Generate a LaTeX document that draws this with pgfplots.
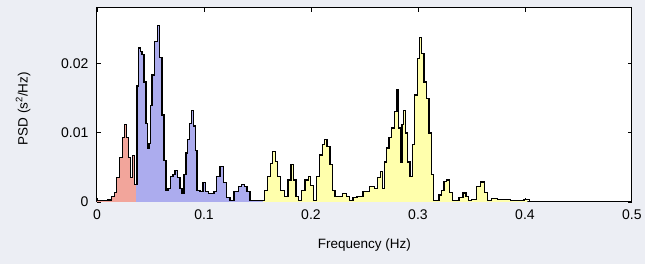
\documentclass[border=0pt]{standalone}
\usepackage{fontspec}
\setmainfont{Liberation Sans}
\usepackage{pgfplots}
\usepackage{pgfplotstable}
\pgfplotsset{compat=1.18}
\definecolor{bgc}{RGB}{236,238,244}
\definecolor{vlf}{RGB}{242,165,155}
\definecolor{lf}{RGB}{172,172,238}
\definecolor{hf}{RGB}{255,255,172}
\pgfplotstableread{
f psd
0.0000 0.0002
0.0077 0.0002
0.0124 0.0003
0.0152 0.0008
0.0170 0.0014
0.0201 0.0035
0.0226 0.0064
0.0245 0.0093
0.0264 0.0112
0.0285 0.0093
0.0301 0.0064
0.0320 0.0035
0.0339 0.0067
0.0357 0.0025
0.0366 0.0025
0.0380 0.0168
0.0394 0.0223
0.0413 0.0218
0.0431 0.0214
0.0450 0.0174
0.0466 0.0114
0.0481 0.0078
0.0492 0.0085
0.0506 0.0140
0.0525 0.0184
0.0553 0.0232
0.0574 0.0256
0.0596 0.0209
0.0618 0.0126
0.0637 0.0060
0.0655 0.0017
0.0674 0.0020
0.0699 0.0037
0.0720 0.0040
0.0739 0.0046
0.0767 0.0035
0.0786 0.0020
0.0801 0.0013
0.0823 0.0040
0.0839 0.0071
0.0856 0.0090
0.0870 0.0114
0.0895 0.0133
0.0911 0.0110
0.0925 0.0075
0.0947 0.0017
0.0979 0.0015
0.1000 0.0028
0.1025 0.0015
0.1056 0.0012
0.1084 0.0012
0.1102 0.0015
0.1133 0.0037
0.1165 0.0051
0.1196 0.0028
0.1226 0.0006
0.1258 0.0002
0.1305 0.0015
0.1336 0.0022
0.1366 0.0025
0.1391 0.0022
0.1413 0.0015
0.1445 0.0002
0.1475 0.0002
0.1512 0.0002
0.1550 0.0002
0.1584 0.0017
0.1606 0.0037
0.1631 0.0056
0.1655 0.0073
0.1678 0.0059
0.1699 0.0037
0.1730 0.0017
0.1771 0.0008
0.1801 0.0032
0.1827 0.0054
0.1848 0.0032
0.1873 0.0008
0.1895 0.0002
0.1925 0.0017
0.1966 0.0032
0.1988 0.0037
0.2009 0.0024
0.2034 0.0002
0.2065 0.0037
0.2097 0.0068
0.2118 0.0083
0.2137 0.0090
0.2165 0.0080
0.2190 0.0054
0.2214 0.0017
0.2237 0.0008
0.2277 0.0008
0.2314 0.0012
0.2345 0.0008
0.2377 0.0002
0.2407 0.0006
0.2454 0.0008
0.2516 0.0015
0.2578 0.0022
0.2609 0.0020
0.2640 0.0035
0.2662 0.0044
0.2678 0.0020
0.2696 0.0058
0.2718 0.0078
0.2740 0.0093
0.2764 0.0107
0.2796 0.0131
0.2811 0.0162
0.2827 0.0107
0.2842 0.0058
0.2857 0.0112
0.2873 0.0133
0.2889 0.0100
0.2913 0.0058
0.2936 0.0037
0.2957 0.0083
0.2982 0.0155
0.3004 0.0208
0.3025 0.0238
0.3046 0.0215
0.3069 0.0174
0.3090 0.0150
0.3116 0.0100
0.3137 0.0040
0.3153 0.0002
0.3184 0.0002
0.3209 0.0010
0.3230 0.0017
0.3255 0.0030
0.3277 0.0032
0.3308 0.0014
0.3339 0.0002
0.3367 0.0002
0.3402 0.0006
0.3439 0.0013
0.3460 0.0008
0.3479 0.0002
0.3526 0.0004
0.3572 0.0022
0.3603 0.0029
0.3635 0.0014
0.3665 0.0002
0.3712 0.0005
0.3774 0.0004
0.3833 0.0004
0.3898 0.0002
0.3961 0.0002
0.4022 0.0004
0.4069 0.0001
0.4131 0.0000
0.5000 0.0000
}\psddata
\begin{document}
\begin{tikzpicture}
\fill[bgc] (0,0) rectangle (645pt,264pt);
\begin{axis}[
  at={(97pt,62pt)}, anchor=south west,
  scale only axis, width=535pt, height=194pt,
  xmin=0, xmax=0.5, ymin=0, ymax=0.0281,
  scaled x ticks=false, scaled y ticks=false,
  axis background/.style={fill=white},
  xtick={0,0.1,0.2,0.3,0.4,0.5},
  xticklabels={0,0.1,0.2,0.3,0.4,0.5},
  ytick={0,0.01,0.02},
  yticklabels={0,0.01,0.02},
  tick align=inside, major tick length=4pt,
  tick style={black, line width=0.9pt},
  axis line style={black, line width=1pt},
  tick label style={font=\fontsize{14}{16}\selectfont},
  xticklabel style={yshift=-4pt},
  yticklabel style={xshift=-5pt},
  xlabel={Frequency (Hz)},
  ylabel={PSD (s\textsuperscript{2}/Hz)},
  label style={font=\fontsize{13.5}{15}\selectfont},
  xlabel style={at={(axis description cs:0.5,-0.222)}, anchor=center},
  ylabel style={at={(axis description cs:-0.138,0.48)}, anchor=center},
  const plot mark mid,
]
\addplot[draw=none, fill=vlf, restrict x to domain=0:0.0366] table[x=f,y=psd]{\psddata} \closedcycle;
\addplot[draw=none, fill=lf, restrict x to domain=0.0366:0.1550] table[x=f,y=psd]{\psddata} \closedcycle;
\addplot[draw=none, fill=hf, restrict x to domain=0.1550:0.4022] table[x=f,y=psd]{\psddata} \closedcycle;
\addplot[black, line width=1.3pt, line join=miter] table[x=f,y=psd]{\psddata};
\end{axis}
\end{tikzpicture}
\end{document}
